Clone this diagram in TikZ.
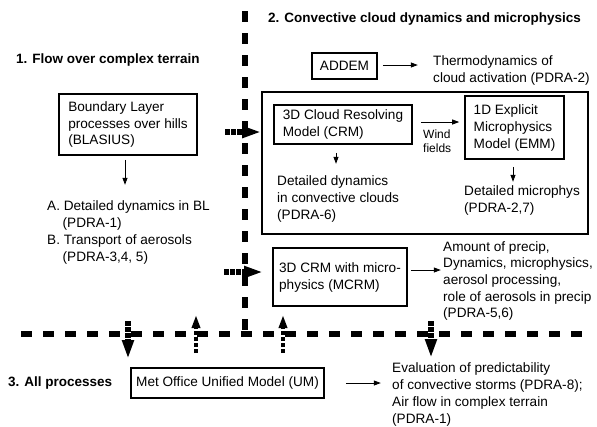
\documentclass[tikz,border=0pt]{standalone}
\usepackage{fontspec}
\setmainfont{Liberation Sans}
\usetikzlibrary{arrows.meta}
\newcommand\nfont{\fontsize{13.6bp}{17bp}\selectfont}
\newcommand\sfont{\fontsize{12bp}{14bp}\selectfont}
\newcommand\hfont{\fontsize{13.5bp}{17bp}\selectfont\bfseries}
\tikzset{
  box/.style={draw, line width=1.6bp, align=left, inner sep=0pt},
  txt/.style={align=left, inner sep=0pt, anchor=north west},
  arr/.style={-{Triangle[length=7bp,width=5bp]}, line width=0.8bp},
  bigdash/.style={line width=6.5bp, dash pattern=on 11bp off 11bp},
  fatarr/.style={-{Triangle[length=19bp,width=11bp]}, line width=5.5bp, dash pattern=on 4.5bp off 1.5bp},
  fatarrup/.style={-{Triangle[length=13bp,width=8bp]}, line width=4bp, dash pattern=on 4.5bp off 1.5bp},
}
\begin{document}
\begin{tikzpicture}[x=1bp,y=-1bp,font=\nfont]
\useasboundingbox (0,0) rectangle (597,426);
% dashed separators
\coordinate (vtop) at (245,11);
\coordinate (vbot) at (245,336);
\coordinate (hl) at (21,334);
\coordinate (hr) at (586,334);
\draw[bigdash] (vtop) -- (vbot);
\draw[bigdash] (hl) -- (hr);
% headings
\node[txt,font=\hfont] (h1) at (16,54) {1. Flow over complex terrain};
\node[txt,font=\hfont] (h2) at (268,13) {2. Convective cloud dynamics and microphysics};
\node[txt,font=\hfont] (h3) at (8,377) {3. All processes};
% section 1
\node[box,minimum width=138bp,minimum height=61bp,font={\fontsize{13.6bp}{16.5bp}\selectfont}] (blasius) at (128,124.5) {Boundary Layer\\processes over hills\\(BLASIUS)};
\node[txt] (blA) at (47,200) {A. Detailed dynamics in BL\\\hspace*{15.5bp}(PDRA-1)\\B. Transport of aerosols\\\hspace*{15.5bp}(PDRA-3,4, 5)};
\draw[arr] ([shift={(-3,4)}]blasius.south) -- ([shift={(-3,29)}]blasius.south);
% section 2
\node[box,minimum width=65bp,minimum height=26bp] (addem) at (344.5,66) {ADDEM};
\node[txt] (thermo) at (433,55) {Thermodynamics of\\cloud activation (PDRA-2)};
\draw[arr] ([shift={(5,-1)}]addem.east) -- ([shift={(40,-1)}]addem.east);
\node[box,minimum width=326bp,minimum height=142bp] (big) at (425,163) {};
\node[box,minimum width=138bp,minimum height=39bp] (crm) at (343,124.5) {3D Cloud Resolving\\Model (CRM)};
\node[box,minimum width=99bp,minimum height=63bp] (emm) at (514.5,127.5) {1D Explicit\\Microphysics\\Model (EMM)};
\draw[arr] ([shift={(8,-2.5)}]crm.east) -- ([shift={(-5,-5.5)}]emm.west);
\node[txt,font=\sfont] (wind) at (423,130) {Wind\\fields};
\node[txt] (dd) at (277,175) {Detailed dynamics\\in convective clouds\\(PDRA-6)};
\draw[arr] ([shift={(-7,8)}]crm.south) -- ([shift={(-7,19)}]crm.south);
\node[txt] (dm) at (464,185) {Detailed microphys\\(PDRA-2,7)};
\draw[arr] ([shift={(-1.5,7)}]emm.south) -- ([shift={(-1.5,22)}]emm.south);
\node[box,minimum width=134bp,minimum height=58bp] (mcrm) at (340,277) {3D CRM with micro-\\physics (MCRM)};
\node[txt,font={\fontsize{13.6bp}{16.7bp}\selectfont}] (precip) at (443,241) {Amount of precip,\\Dynamics, microphysics,\\aerosol processing,\\role of aerosols in precip\\(PDRA-5,6)};
\draw[arr] ([shift={(3,-7)}]mcrm.east) -- ([shift={(33,-7)}]mcrm.east);
% section 3
\node[box,minimum width=193bp,minimum height=30bp] (um) at (227.5,383) {Met Office Unified Model (UM)};
\node[txt] (eval) at (392,362) {Evaluation of predictability\\of convective storms (PDRA-8);\\Air flow in complex terrain\\(PDRA-1)};
\draw[arr] ([xshift=21bp]um.east) -- ([xshift=56bp]um.east);
% fat dashed arrows
\coordinate (fa1) at (225,132);
\draw[fatarr] (fa1) -- (fa1 -| big.west);
\coordinate (fa2) at (224,272);
\draw[fatarr] (fa2) -- ++(39,0);
\coordinate (d1) at (128,321);
\draw[fatarr] (d1) -- ++(0,38);
\coordinate (u1) at (196,353);
\draw[fatarrup] (u1) -- ++(0,-38);
\coordinate (u2) at (283,353);
\draw[fatarrup] (u2) -- ++(0,-38);
\coordinate (d2) at (431,321);
\draw[fatarr] (d2) -- ++(0,37);
\end{tikzpicture}
\end{document}
